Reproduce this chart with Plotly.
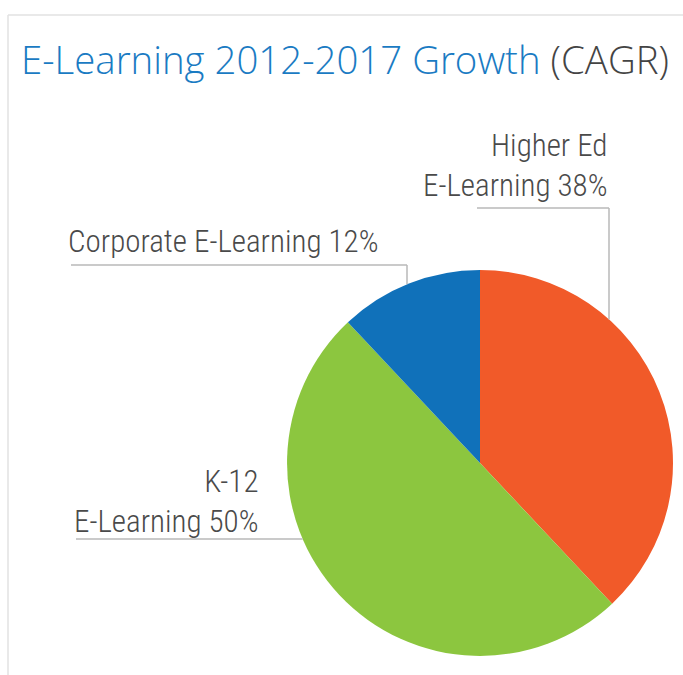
import math
import plotly.graph_objects as go

W, H = 683, 675

# ─── data ─────────────────────────────────────────────────────────────────────
segments = ["Higher Ed E-Learning", "K-12 E-Learning", "Corporate E-Learning"]
shares = [38, 50, 12]
label_text = ["Higher Ed<br>E-Learning 38%", "K-12<br>E-Learning 50%",
              "Corporate E-Learning 12%"]
colors = ["#F15A29", "#8CC63F", "#1071BA"]

# ─── geometry (pixels) ────────────────────────────────────────────────────────
CX, CY, R = 480, 463, 193
LINE = "#B8B8B8"
TEXT = "#4A4A4A"
LABEL_FONT = "Roboto Condensed, Liberation Sans Narrow, DejaVu Sans Condensed, sans-serif"


def px(x):
    return x / W


def py(y):
    return 1 - y / H


def edge_y(x, upper=True):
    d = math.sqrt(max(R**2 - (x - CX) ** 2, 0))
    return CY - d if upper else CY + d


def edge_x(y, left=True):
    d = math.sqrt(max(R**2 - (y - CY) ** 2, 0))
    return CX - d if left else CX + d


fig = go.Figure(go.Pie(
    labels=segments, values=shares, sort=False, direction="clockwise",
    rotation=0, marker=dict(colors=colors, line=dict(width=0)),
    textinfo="none", hoverinfo="label+percent", showlegend=False,
    domain=dict(x=[px(CX - R), px(CX + R)], y=[py(CY + R), py(CY - R)]),
))

shapes = []


def seg(x0, y0, x1, y1, color=LINE, width=1.5):
    shapes.append(dict(type="line", xref="paper", yref="paper",
                       x0=px(x0), y0=py(y0), x1=px(x1), y1=py(y1),
                       line=dict(color=color, width=width)))


# frame
seg(8, 15, W, 15, color="#E2E2E2", width=1.5)
seg(8, 15, 8, H, color="#E2E2E2", width=1.5)

# leader lines
seg(477, 208, 609, 208)
seg(609, 208, 609, edge_y(609))
seg(71, 265, 407, 265)
seg(407, 265, 407, edge_y(407))
seg(76, 539, edge_x(539), 539)

fig.update_layout(shapes=shapes)

ann = dict(xref="paper", yref="paper", showarrow=False,
           font=dict(family=LABEL_FONT, size=31, color=TEXT, weight=300))
fig.add_annotation(**ann, text=label_text[0], x=px(610), y=py(166),
                   xanchor="right", yanchor="middle", align="right")
fig.add_annotation(**ann, text=label_text[1], x=px(261), y=py(501),
                   xanchor="right", yanchor="middle", align="right")
fig.add_annotation(**ann, text=label_text[2], x=px(66), y=py(242),
                   xanchor="left", yanchor="middle", align="left")

# title
fig.add_annotation(
    xref="paper", yref="paper", showarrow=False, x=px(19), y=py(59),
    xanchor="left", yanchor="middle",
    text="<span style='color:#1A7BC3'>E-Learning 2012-2017 Growth</span> (CAGR)",
    font=dict(family="Open Sans, sans-serif", size=38.4, color="#444444", weight=300),
)

fig.update_layout(
    width=W, height=H, margin=dict(l=0, r=0, t=0, b=0),
    paper_bgcolor="white", plot_bgcolor="white",
)

fig.write_html("out.html", config={"displayModeBar": False},
               post_script="document.body.style.margin='0';")
